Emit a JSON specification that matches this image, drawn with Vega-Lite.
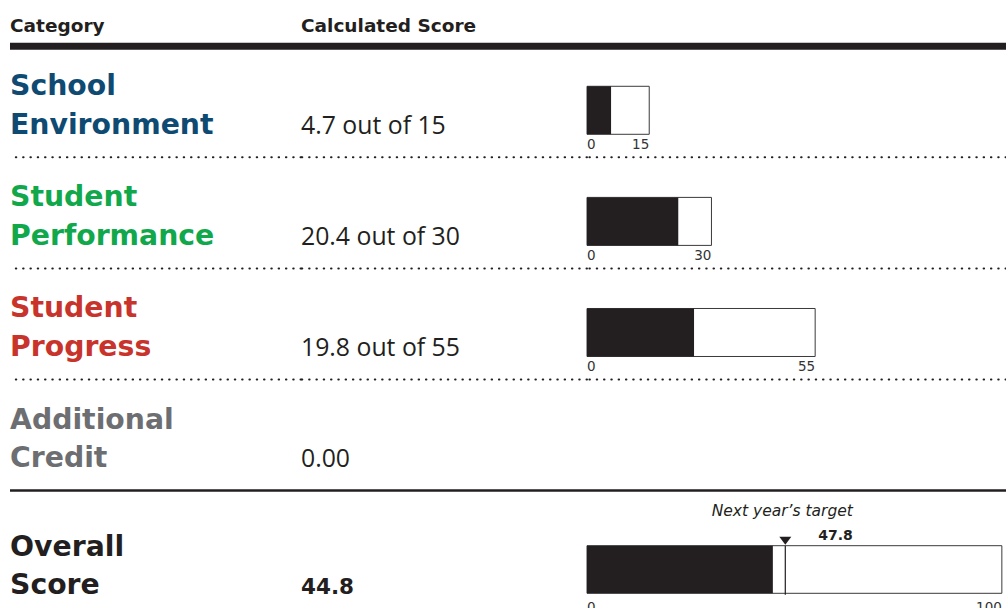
{
  "$schema": "https://vega.github.io/schema/vega-lite/v6.json",
  "padding": {"left": 6, "top": 0, "right": 0, "bottom": 0},
  "autosize": {"type": "pad"},
  "bounds": "flush",
  "spacing": 0,
  "config": {"view": {"stroke": null}, "font": "DejaVu Sans"},
  "datasets": {
    "rows": [
      {"row": 1, "category": "School Environment", "line1": "School", "line2": "Environment", "label": "4.7 out of 15", "score": 4.7, "max": 15, "bar": 5.8},
      {"row": 2, "category": "Student Performance", "line1": "Student", "line2": "Performance", "label": "20.4 out of 30", "score": 20.4, "max": 30, "bar": 22.0},
      {"row": 3, "category": "Student Progress", "line1": "Student", "line2": "Progress", "label": "19.8 out of 55", "score": 19.8, "max": 55, "bar": 25.8},
      {"row": 4, "category": "Additional Credit", "line1": "Additional", "line2": "Credit", "label": "0.00", "score": 0},
      {"row": 5, "category": "Overall Score", "line1": "Overall", "line2": "Score", "label": "44.8", "score": 44.8, "max": 100, "bar": 44.8, "target": 47.8}
    ]
  },
  "data": {"name": "rows"},
  "hconcat": [
    {
      "width": 291,
      "height": 608,
      "layer": [
        {"transform": [{"filter": "datum.row == 1"}], "mark": {"type": "rule", "strokeWidth": 7, "color": "#231f20"},
         "encoding": {"y": {"datum": 0, "type": "quantitative", "scale": {"domain": [-0.4158, 5.0567], "reverse": true, "nice": false, "zero": false}, "axis": null}}},
        {"transform": [{"filter": "datum.row <= 3"}], "mark": {"type": "rule", "strokeWidth": 2, "strokeDash": [0.5, 6.8], "strokeCap": "round", "color": "#231f20"},
         "encoding": {"y": {"field": "row", "type": "quantitative", "axis": null}}},
        {"transform": [{"filter": "datum.row == 4"}], "mark": {"type": "rule", "strokeWidth": 2.5, "color": "#231f20"},
         "encoding": {"y": {"field": "row", "type": "quantitative", "axis": null}}},
        {"transform": [{"filter": "datum.row == 1"}], "mark": {"type": "text", "text": "Category", "align": "left", "baseline": "alphabetic", "dy": -14, "fontSize": 18.5, "fontWeight": "bold", "color": "#231f20"},
         "encoding": {"x": {"datum": 0, "type": "quantitative", "scale": {"domain": [0, 1]}, "axis": null}, "y": {"datum": 0, "type": "quantitative", "axis": null}}},
        {"transform": [{"filter": "datum.row <= 4"}], "mark": {"type": "text", "align": "left", "baseline": "alphabetic", "dy": -62, "fontSize": 28.3, "fontWeight": "bold"},
         "encoding": {"x": {"datum": 0, "type": "quantitative"}, "y": {"field": "row", "type": "quantitative"}, "text": {"field": "line1"},
           "color": {"field": "category", "type": "nominal", "legend": null, "scale": {"domain": ["School Environment", "Student Performance", "Student Progress", "Additional Credit", "Overall Score"], "range": ["#0e4a72", "#10a84b", "#c8342b", "#6d6e71", "#231f20"]}}}},
        {"transform": [{"filter": "datum.row <= 4"}], "mark": {"type": "text", "align": "left", "baseline": "alphabetic", "dy": -23.3, "fontSize": 28.3, "fontWeight": "bold"},
         "encoding": {"x": {"datum": 0, "type": "quantitative"}, "y": {"field": "row", "type": "quantitative"}, "text": {"field": "line2"},
           "color": {"field": "category", "type": "nominal", "legend": null}}},
        {"transform": [{"filter": "datum.row == 5"}], "mark": {"type": "text", "align": "left", "baseline": "alphabetic", "dy": -46, "fontSize": 28.3, "fontWeight": "bold"},
         "encoding": {"x": {"datum": 0, "type": "quantitative"}, "y": {"field": "row", "type": "quantitative"}, "text": {"field": "line1"},
           "color": {"field": "category", "type": "nominal", "legend": null}}},
        {"transform": [{"filter": "datum.row == 5"}], "mark": {"type": "text", "align": "left", "baseline": "alphabetic", "dy": -7.7, "fontSize": 28.3, "fontWeight": "bold"},
         "encoding": {"x": {"datum": 0, "type": "quantitative"}, "y": {"field": "row", "type": "quantitative"}, "text": {"field": "line2"},
           "color": {"field": "category", "type": "nominal", "legend": null}}}
      ]
    },
    {
      "width": 286,
      "height": 608,
      "layer": [
        {"transform": [{"filter": "datum.row == 1"}], "mark": {"type": "rule", "strokeWidth": 7, "color": "#231f20"},
         "encoding": {"y": {"datum": 0, "type": "quantitative", "scale": {"domain": [-0.4158, 5.0567], "reverse": true, "nice": false, "zero": false}, "axis": null}}},
        {"transform": [{"filter": "datum.row <= 3"}], "mark": {"type": "rule", "strokeWidth": 2, "strokeDash": [0.5, 6.8], "strokeCap": "round", "color": "#231f20"},
         "encoding": {"y": {"field": "row", "type": "quantitative", "axis": null}}},
        {"transform": [{"filter": "datum.row == 4"}], "mark": {"type": "rule", "strokeWidth": 2.5, "color": "#231f20"},
         "encoding": {"y": {"field": "row", "type": "quantitative", "axis": null}}},
        {"transform": [{"filter": "datum.row == 1"}], "mark": {"type": "text", "text": "Calculated Score", "align": "left", "baseline": "alphabetic", "dy": -14, "fontSize": 18.5, "fontWeight": "bold", "color": "#231f20"},
         "encoding": {"x": {"datum": 0, "type": "quantitative", "scale": {"domain": [0, 1]}, "axis": null}, "y": {"datum": 0, "type": "quantitative", "axis": null}}},
        {"transform": [{"filter": "datum.row <= 4"}], "mark": {"type": "text", "align": "left", "baseline": "alphabetic", "dy": -23.5, "fontSize": 24.8, "font": "Open Sans", "color": "#231f20"},
         "encoding": {"x": {"datum": 0, "type": "quantitative"}, "y": {"field": "row", "type": "quantitative"}, "text": {"field": "label"}}},
        {"transform": [{"filter": "datum.row == 5"}], "mark": {"type": "text", "align": "left", "baseline": "alphabetic", "dy": -7.5, "fontSize": 21.5, "fontWeight": "bold", "color": "#231f20"},
         "encoding": {"x": {"datum": 0, "type": "quantitative"}, "y": {"field": "row", "type": "quantitative"}, "text": {"field": "label"}}}
      ]
    },
    {
      "width": 419,
      "height": 608,
      "layer": [
        {"transform": [{"filter": "datum.row == 1"}], "mark": {"type": "rule", "strokeWidth": 7, "color": "#231f20"},
         "encoding": {"y": {"datum": 0, "type": "quantitative", "scale": {"domain": [-0.4158, 5.0567], "reverse": true, "nice": false, "zero": false}, "axis": null}}},
        {"transform": [{"filter": "datum.row <= 3"}], "mark": {"type": "rule", "strokeWidth": 2, "strokeDash": [0.5, 6.8], "strokeCap": "round", "color": "#231f20"},
         "encoding": {"y": {"field": "row", "type": "quantitative", "axis": null}}},
        {"transform": [{"filter": "datum.row == 4"}], "mark": {"type": "rule", "strokeWidth": 2.5, "color": "#231f20"},
         "encoding": {"y": {"field": "row", "type": "quantitative", "axis": null}}},
        {"transform": [{"filter": "datum.row <= 3"}], "mark": {"type": "rect", "fill": "white", "stroke": "#3a3a3a", "strokeWidth": 1, "yOffset": -71, "y2Offset": -23},
         "encoding": {"x": {"field": "max", "type": "quantitative", "scale": {"domain": [0, 101], "nice": false, "zero": false}, "axis": null}, "x2": {"datum": 0},
           "y": {"field": "row", "type": "quantitative", "axis": null}, "y2": {"field": "row"}}},
        {"transform": [{"filter": "datum.row <= 3"}], "mark": {"type": "rect", "fill": "#231f20", "yOffset": -71, "y2Offset": -23},
         "encoding": {"x": {"field": "bar", "type": "quantitative"}, "x2": {"datum": 0},
           "y": {"field": "row", "type": "quantitative"}, "y2": {"field": "row"}}},
        {"transform": [{"filter": "datum.row <= 3"}], "mark": {"type": "text", "text": "0", "align": "left", "baseline": "alphabetic", "dy": -8, "fontSize": 13.5, "color": "#333333"},
         "encoding": {"x": {"datum": 0, "type": "quantitative"}, "y": {"field": "row", "type": "quantitative"}}},
        {"transform": [{"filter": "datum.row <= 3"}], "mark": {"type": "text", "align": "right", "baseline": "alphabetic", "dy": -8, "fontSize": 13.5, "color": "#333333"},
         "encoding": {"x": {"field": "max", "type": "quantitative"}, "y": {"field": "row", "type": "quantitative"}, "text": {"field": "max"}}},
        {"transform": [{"filter": "datum.row == 5"}], "mark": {"type": "rect", "fill": "white", "stroke": "#3a3a3a", "strokeWidth": 1, "yOffset": -56, "y2Offset": -8.4},
         "encoding": {"x": {"field": "max", "type": "quantitative"}, "x2": {"datum": 0},
           "y": {"field": "row", "type": "quantitative"}, "y2": {"field": "row"}}},
        {"transform": [{"filter": "datum.row == 5"}], "mark": {"type": "rect", "fill": "#231f20", "yOffset": -56, "y2Offset": -8.4},
         "encoding": {"x": {"field": "bar", "type": "quantitative"}, "x2": {"datum": 0},
           "y": {"field": "row", "type": "quantitative"}, "y2": {"field": "row"}}},
        {"transform": [{"filter": "datum.row == 5"}], "mark": {"type": "rule", "color": "#231f20", "strokeWidth": 1.2, "yOffset": -56, "y2Offset": -7},
         "encoding": {"x": {"field": "target", "type": "quantitative"},
           "y": {"field": "row", "type": "quantitative"}, "y2": {"field": "row"}}},
        {"transform": [{"filter": "datum.row == 5"}], "mark": {"type": "point", "shape": "M-1,-0.66L1,-0.66L0,0.66Z", "filled": true, "color": "#231f20", "size": 144, "opacity": 1, "yOffset": -61},
         "encoding": {"x": {"field": "target", "type": "quantitative"}, "y": {"field": "row", "type": "quantitative"}}},
        {"transform": [{"filter": "datum.row == 5"}], "mark": {"type": "text", "align": "left", "baseline": "alphabetic", "dx": 33, "dy": -61.7, "fontSize": 14, "fontWeight": "bold", "color": "#231f20"},
         "encoding": {"x": {"field": "target", "type": "quantitative"}, "y": {"field": "row", "type": "quantitative"}, "text": {"field": "target"}}},
        {"transform": [{"filter": "datum.row == 5"}], "mark": {"type": "text", "text": "Next year’s target", "align": "center", "baseline": "alphabetic", "dx": -3, "dy": -85.7, "fontSize": 15.5, "fontStyle": "italic", "color": "#231f20"},
         "encoding": {"x": {"field": "target", "type": "quantitative"}, "y": {"field": "row", "type": "quantitative"}}},
        {"transform": [{"filter": "datum.row == 5"}], "mark": {"type": "text", "text": "0", "align": "left", "baseline": "alphabetic", "dy": 10.3, "fontSize": 13.5, "color": "#333333"},
         "encoding": {"x": {"datum": 0, "type": "quantitative"}, "y": {"field": "row", "type": "quantitative"}}},
        {"transform": [{"filter": "datum.row == 5"}], "mark": {"type": "text", "align": "right", "baseline": "alphabetic", "dy": 10.3, "fontSize": 13.5, "color": "#333333"},
         "encoding": {"x": {"field": "max", "type": "quantitative"}, "y": {"field": "row", "type": "quantitative"}, "text": {"field": "max"}}}
      ]
    }
  ]
}
